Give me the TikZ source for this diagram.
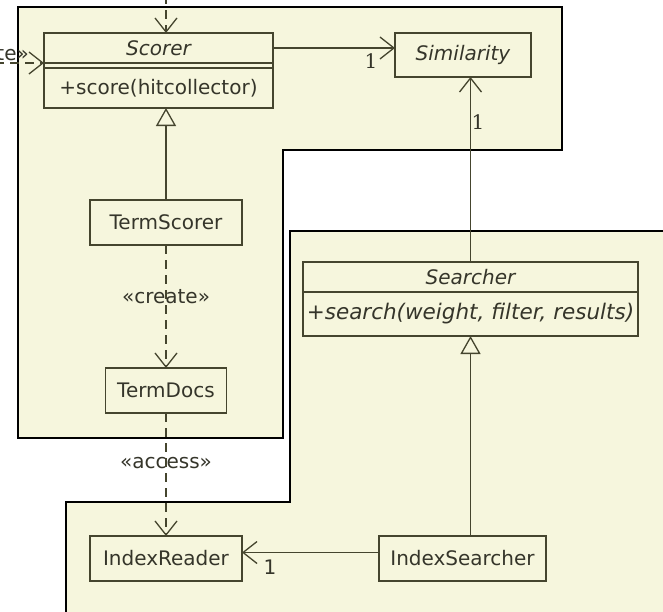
\documentclass[tikz,border=0pt]{standalone}
\usepackage{fontspec}
\setmainfont{DejaVu Sans}
\newfontfamily\onefont{DejaVu Serif}
\usetikzlibrary{arrows.meta,calc}
\definecolor{pkgfill}{HTML}{F6F6DD}
\definecolor{boxline}{HTML}{45452E}
\definecolor{txt}{HTML}{35352A}
\begin{document}
\begin{tikzpicture}[x=1pt,y=-1pt,
  box/.style={draw=boxline, line width=1.3pt, fill=pkgfill, inner sep=0pt, outer sep=0pt, font=\fontsize{20}{22}\selectfont, text=txt},
  pkg/.style={draw=black, line width=2.2pt, fill=pkgfill},
  dep/.style={draw=boxline, line width=1.3pt, dash pattern=on 9pt off 6pt, -{Straight Barb[length=14pt,width=22pt]}},
  assoc/.style={draw=boxline, line width=1.3pt, -{Straight Barb[length=14pt,width=22pt]}},
  inh/.style={draw=boxline, line width=1.3pt, -{Triangle[open, length=18pt, width=20pt, fill=pkgfill]}},
  lbl/.style={font=\fontsize{20}{22}\selectfont, text=txt, inner sep=1pt}]
\useasboundingbox (0,0) rectangle (663,611);
\clip (0,0) rectangle (663,611);
% packages
\draw[pkg] (18,7) -- (562,7) -- (562,150) -- (283,150) -- (283,438) -- (18,438) -- cycle;
\draw[pkg] (290,231) -- (680,231) -- (680,630) -- (66,630) -- (66,502) -- (290,502) -- cycle;
% classes
\node[box, minimum width=229pt, minimum height=30pt] (ScorerName) at (158.5,48) {\itshape Scorer};
\node[box, minimum width=229pt, minimum height=5pt] (ScorerAttr) at (158.5,65.5) {};
\node[box, minimum width=229pt, minimum height=40pt] (ScorerOps) at (158.5,88) {+score(hitcollector)};
\node[box, minimum width=136pt, minimum height=44pt] (Similarity) at (463,55) {\itshape Similarity};
\node[box, minimum width=152pt, minimum height=45pt] (TermScorer) at (166,222.5) {TermScorer};
\node[box, minimum width=121pt, minimum height=45pt] (TermDocs) at (166,390.5) {TermDocs};
\node[box, minimum width=152pt, minimum height=45pt] (IndexReader) at (166,558.5) {IndexReader};
\node[box, minimum width=167pt, minimum height=45pt] (IndexSearcher) at (462.5,558.5) {IndexSearcher};
\node[box, minimum width=335pt, minimum height=30pt] (SearcherName) at (470.5,277) {\itshape Searcher};
\node[box, minimum width=335pt, minimum height=44pt, font=\fontsize{21.5}{24}\selectfont] (SearcherOps) at (470.5,314) {\itshape +search(weight, filter, results)};
% connectors
\coordinate (topin) at (166,-5);
\coordinate (leftin) at (-5,63);
\draw[dep] (topin) -- (topin |- ScorerName.north);
\draw[dep] (leftin) -- (leftin -| ScorerAttr.west);
\draw[assoc] (ScorerName.east) -- (ScorerName.east -| Similarity.west);
\draw[assoc] (SearcherName.north) -- (SearcherName.north |- Similarity.south);
\draw[inh] (TermScorer.north) -- (TermScorer.north |- ScorerOps.south);
\draw[dep] (TermScorer.south) -- (TermDocs.north);
\draw[dep] (TermDocs.south) -- (IndexReader.north);
\draw[inh] (SearcherOps.south |- IndexSearcher.north) -- (SearcherOps.south);
\draw[assoc] ([yshift=6pt]IndexSearcher.west) -- ([yshift=6pt]IndexSearcher.west -| IndexReader.east);
% labels
\node[lbl, anchor=east] (createL) at (30,54) {«create»};
\node[lbl] (createM) at (166,297) {«create»};
\node[lbl] (access) at (166,463) {«access»};
\node[lbl, font=\onefont\fontsize{20}{22}\selectfont] (m1) at (371,61) {1};
\node[lbl, font=\onefont\fontsize{20}{22}\selectfont] (m2) at (478,122) {1};
\node[lbl] (m3) at (270,567) {1};
\end{tikzpicture}
\end{document}
